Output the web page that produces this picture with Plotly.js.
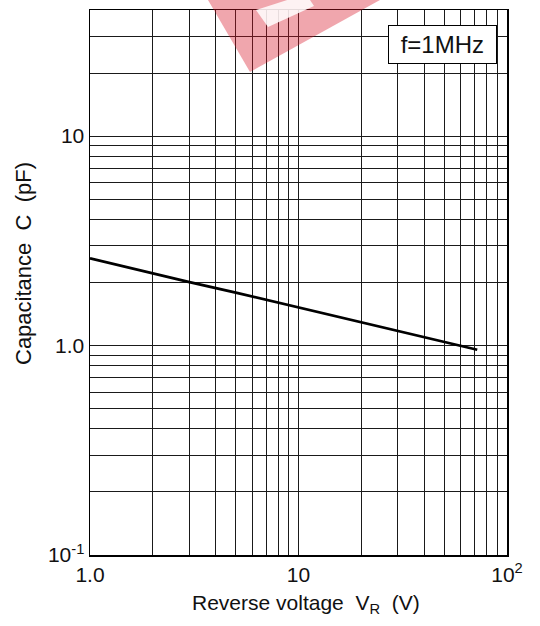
<!DOCTYPE html>
<html>
<head>
<meta charset="utf-8">
<script src="https://cdn.plot.ly/plotly-3.0.1.min.js"></script>
<style>html,body{margin:0;padding:0;background:#fff;}#chart{width:540px;height:626px;}</style>
</head>
<body>
<div id="chart"></div>
<script>
// Data
var voltage = [1.0, 2.0, 3.0, 5.0, 10, 20, 30, 50, 72];
var capacitance = [2.61, 2.21, 2.01, 1.79, 1.52, 1.29, 1.17, 1.04, 0.955];

// Labelled ticks and grid positions
var xTickVals = [1, 10, 100];
var xTickText = ['1.0', '10', '10<sup>2</sup>'];
var xGridVals = [2,3,4,5,6,7,8,9,20,30,40,50,60,70,80,90];
var yTickVals = [0.1, 1, 10];
var yTickText = ['10<sup>-1</sup>', '1.0', '10'];
var yGridVals = [0.2,0.3,0.4,0.5,0.6,0.7,0.8,0.9,2,3,4,5,6,7,8,9,20,30];

var annotationText = '&nbsp;f=1MHz&nbsp;';
var xTitle = 'Reverse voltage &nbsp;V<sub>R</sub> &nbsp;(V)';
var yTitle = 'Capacitance &nbsp;C &nbsp;(pF)';

var font = 'Liberation Sans, Arial, sans-serif';
var gridCol = '#1a1a1a';

var trace = {
  x: voltage, y: capacitance, type: 'scatter', mode: 'lines',
  line: {color: '#000', width: 2.8}, showlegend: false, hoverinfo: 'skip'
};

function px2paper(px, py) {
  return [(px - 90) / 417, (555 - py) / 545];
}
function pathFrom(points) {
  return points.map(function (p, i) {
    var q = px2paper(p[0], p[1]);
    return (i ? 'L' : 'M') + q[0].toFixed(4) + ',' + q[1].toFixed(4);
  }).join(' ') + ' Z';
}

var xt = px2paper(306, 604);
var yt = px2paper(23, 264);
var ft = px2paper(442, 45);

var layout = {
  width: 540, height: 626,
  margin: {l: 90, r: 33, t: 10, b: 71},
  paper_bgcolor: '#fff', plot_bgcolor: '#fff',
  font: {family: font, color: '#111', size: 21},
  xaxis: {
    type: 'log', range: [0, 2],
    tickmode: 'array', tickvals: xTickVals, ticktext: xTickText,
    showgrid: true, gridcolor: gridCol, gridwidth: 1,
    minor: {tickmode: 'array', tickvals: xGridVals, showgrid: true, gridcolor: gridCol, gridwidth: 1, ticks: ''},
    showline: true, linecolor: '#000', linewidth: 1.5, mirror: true,
    ticks: '', zeroline: false,
    tickfont: {size: 21, family: font, color: '#111'}
  },
  yaxis: {
    type: 'log', range: [-1, Math.log10(40)],
    tickmode: 'array', tickvals: yTickVals, ticktext: yTickText,
    showgrid: true, gridcolor: gridCol, gridwidth: 1,
    minor: {tickmode: 'array', tickvals: yGridVals, showgrid: true, gridcolor: gridCol, gridwidth: 1, ticks: ''},
    showline: true, linecolor: '#000', linewidth: 1.5, mirror: true,
    ticks: '', zeroline: false,
    tickfont: {size: 21, family: font, color: '#111'}
  },
  annotations: [
    {xref: 'paper', yref: 'paper', x: ft[0], y: ft[1],
     xanchor: 'center', yanchor: 'middle',
     text: annotationText, showarrow: false,
     font: {size: 24, family: font, color: '#111'},
     bgcolor: '#fff', bordercolor: '#000', borderwidth: 1, borderpad: 5},
    {xref: 'paper', yref: 'paper', x: xt[0], y: xt[1],
     xanchor: 'center', yanchor: 'middle',
     text: xTitle, showarrow: false,
     font: {size: 21, family: font, color: '#111'}},
    {xref: 'paper', yref: 'paper', x: yt[0], y: yt[1],
     xanchor: 'center', yanchor: 'middle', textangle: -90,
     text: yTitle, showarrow: false,
     font: {size: 22, family: font, color: '#111'}}
  ],
  shapes: [
    {type: 'path', xref: 'paper', yref: 'paper', layer: 'above',
     path: pathFrom([[208, 0], [380, 0], [250, 72]]),
     fillcolor: 'rgba(215,20,40,0.38)', line: {width: 0}},
    {type: 'path', xref: 'paper', yref: 'paper', layer: 'above',
     path: pathFrom([[256, 10], [306, -6], [314, 6], [268, 27]]),
     fillcolor: 'rgba(255,255,255,0.85)', line: {width: 0}}
  ]
};

Plotly.newPlot('chart', [trace], layout, {staticPlot: true, displayModeBar: false});
</script>
</body>
</html>
